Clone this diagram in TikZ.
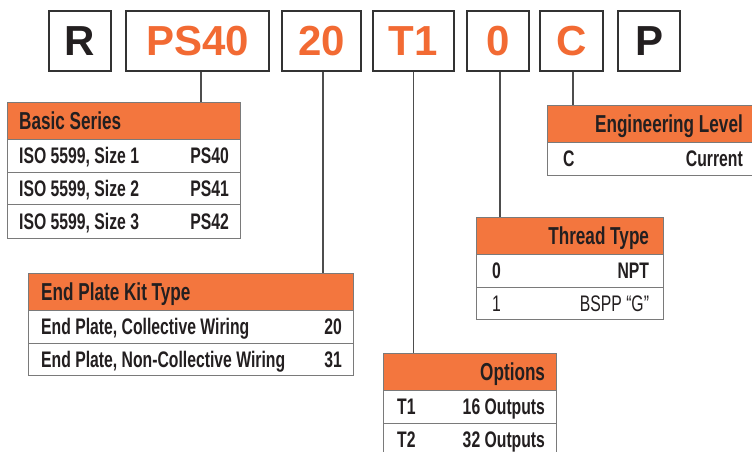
\documentclass[tikz,border=0pt]{standalone}
\usepackage{fontspec}
\setmainfont{Liberation Sans}
\newfontfamily\topfont{Liberation Sans}
\newfontfamily\condfont{Liberation Sans}[FakeStretch=0.7]
\definecolor{orng}{HTML}{F26A33}
\definecolor{hdrfill}{HTML}{F3763E}
\definecolor{txtc}{HTML}{231F20}
\definecolor{boxln}{HTML}{333333}
\definecolor{tabln}{HTML}{7A7A7A}
\definecolor{conn}{HTML}{4D4D4D}
\begin{document}
\begin{tikzpicture}[x=1pt,y=-1pt,
  topbox/.style={draw=boxln,line width=2pt,minimum height=60pt,inner sep=0pt,
    font=\topfont\fontsize{42}{42}\selectfont\bfseries},
  hdr/.style={fill=hdrfill,draw=tabln,line width=1.2pt,anchor=north west,inner sep=0pt,minimum height=37pt},
  rowbox/.style={fill=white,draw=tabln,line width=1.2pt,anchor=north west,inner sep=0pt,minimum height=32.5pt},
  capbox/.style={inner sep=0pt,text=txtc,text depth=0pt},
  htxt/.style={capbox,text height=17.6pt,font=\condfont\fontsize{24.5}{24.5}\selectfont\bfseries},
  btxt/.style={capbox,text height=16.2pt,font=\condfont\fontsize{22.5}{22.5}\selectfont\bfseries},
  rtxt/.style={capbox,text height=16.2pt,font=\condfont\fontsize{22.5}{22.5}\selectfont},
  conline/.style={draw=conn,line width=1.1pt}]
\useasboundingbox (0,0) rectangle (752,451);

% top code boxes
\node[topbox,minimum width=62pt,text=txtc] (R) at (80,41) {R};
\node[topbox,minimum width=143pt,text=orng] (PS) at (197.5,41) {PS40};
\node[topbox,minimum width=79pt,text=orng] (TW) at (321.5,41) {20};
\node[topbox,minimum width=81pt,text=orng] (T1) at (413.5,41) {T1};
\node[topbox,minimum width=62pt,text=orng] (ZE) at (498,41) {0};
\node[topbox,minimum width=63pt,text=orng] (CC) at (571.5,41) {C};
\node[topbox,minimum width=62pt,text=txtc] (PP) at (649,41) {P};

% Basic Series
\node[hdr,minimum width=233pt] (bsH) at (7,102) {};
\node[rowbox,minimum width=233pt] (bs1) at (7,139) {};
\node[rowbox,minimum width=233pt] (bs2) at (7,171.5) {};
\node[rowbox,minimum width=233pt,minimum height=33.5pt] (bs3) at (7,204) {};
\node[htxt,anchor=west] (bsHt) at ([xshift=12pt]bsH.west) {Basic Series};
\node[btxt,anchor=west] (bs1l) at ([xshift=12pt]bs1.west) {ISO 5599, Size 1};
\node[btxt,anchor=east] (bs1r) at ([xshift=-12pt]bs1.east) {PS40};
\node[btxt,anchor=west] (bs2l) at ([xshift=12pt]bs2.west) {ISO 5599, Size 2};
\node[btxt,anchor=east] (bs2r) at ([xshift=-12pt]bs2.east) {PS41};
\node[btxt,anchor=west] (bs3l) at ([xshift=12pt]bs3.west) {ISO 5599, Size 3};
\node[btxt,anchor=east] (bs3r) at ([xshift=-12pt]bs3.east) {PS42};

% End Plate Kit Type
\node[hdr,minimum width=325pt] (epH) at (28,273) {};
\node[rowbox,minimum width=325pt] (ep1) at (28,310) {};
\node[rowbox,minimum width=325pt] (ep2) at (28,342.5) {};
\node[htxt,anchor=west] (epHt) at ([xshift=13pt]epH.west) {End Plate Kit Type};
\node[btxt,anchor=west] (ep1l) at ([xshift=13pt]ep1.west) {End Plate, Collective Wiring};
\node[btxt,anchor=east] (ep1r) at ([xshift=-12pt]ep1.east) {20};
\node[btxt,anchor=west] (ep2l) at ([xshift=13pt]ep2.west) {End Plate, Non-Collective Wiring};
\node[btxt,anchor=east] (ep2r) at ([xshift=-12pt]ep2.east) {31};

% Options
\node[hdr,minimum width=173pt] (opH) at (383,353) {};
\node[rowbox,minimum width=173pt] (op1) at (383,390) {};
\node[rowbox,minimum width=173pt] (op2) at (383,422.5) {};
\node[htxt,anchor=east] (opHt) at ([xshift=-12pt]opH.east) {Options};
\node[btxt,anchor=west] (op1l) at ([xshift=14pt]op1.west) {T1};
\node[btxt,anchor=east] (op1r) at ([xshift=-12pt]op1.east) {16 Outputs};
\node[btxt,anchor=west] (op2l) at ([xshift=14pt]op2.west) {T2};
\node[btxt,anchor=east] (op2r) at ([xshift=-12pt]op2.east) {32 Outputs};

% Thread Type
\node[hdr,minimum width=187pt] (thH) at (476,217) {};
\node[rowbox,minimum width=187pt] (th1) at (476,254) {};
\node[rowbox,minimum width=187pt] (th2) at (476,286.5) {};
\node[htxt,anchor=east] (thHt) at ([xshift=-15pt]thH.east) {Thread Type};
\node[btxt,anchor=west] (th1l) at ([xshift=16pt]th1.west) {0};
\node[btxt,anchor=east] (th1r) at ([xshift=-15pt]th1.east) {NPT};
\node[rtxt,anchor=west] (th2l) at ([xshift=16pt]th2.west) {1};
\node[rtxt,anchor=east] (th2r) at ([xshift=-15pt]th2.east) {BSPP “G”};

% Engineering Level
\node[hdr,minimum width=215pt] (enH) at (547,105) {};
\node[rowbox,minimum width=215pt] (en1) at (547,142) {};
\node[htxt,anchor=east] (enHt) at (743,123.5) {Engineering Level};
\node[btxt,anchor=west] (en1l) at ([xshift=16pt]en1.west) {C};
\node[btxt,anchor=east] (en1r) at (743,158.25) {Current};

% connectors
\draw[conline] ([xshift=3.5pt]PS.south) -- ([xshift=3.5pt]PS.south |- bsH.north);
\draw[conline] ([xshift=1.5pt]TW.south) -- ([xshift=1.5pt]TW.south |- epH.north);
\draw[conline] (T1.south) -- (T1.south |- opH.north);
\draw[conline] ([xshift=2pt]ZE.south) -- ([xshift=2pt]ZE.south |- thH.north);
\draw[conline] ([xshift=1.5pt]CC.south) -- ([xshift=1.5pt]CC.south |- enH.north);
\end{tikzpicture}
\end{document}
